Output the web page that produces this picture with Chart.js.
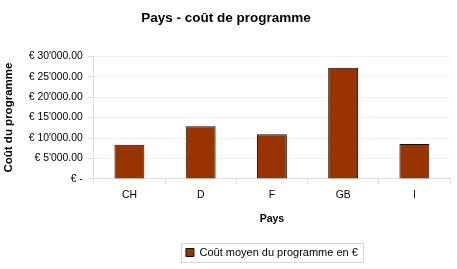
<!DOCTYPE html>
<html>
<head>
<meta charset="utf-8">
<script src="https://cdn.jsdelivr.net/npm/chart.js@4.4.1/dist/chart.umd.min.js"></script>
<style>
    body { margin: 0; background: #fff; }
    #wrap { width: 457px; height: 269px; border-right: 2px solid #d4d4d4; }
    canvas { display: block; }
</style>
</head>
<body>
<div id="wrap"><canvas id="CanvasChart" width="457" height="269"></canvas></div>
<script>
const pays = ["CH", "D", "F", "GB", "I"];
const coutMoyen = [8350, 12850, 10900, 27200, 8550];
const serieLabel = "Coût moyen du programme en €";

function euro(v) {
    if (v === 0) return "€ -";
    return "€ " + v.toLocaleString("en-US").replace(/,/g, "'") + ".00";
}

// cadre gris autour de la legende
const legendBox = {
    id: 'legendBox',
    afterDraw(chart) {
        const hb = chart.legend.legendHitBoxes[0];
        if (!hb) return;
        const ctx = chart.ctx;
        const cy = hb.top + hb.height / 2;
        ctx.save();
        ctx.strokeStyle = '#d6d6d6';
        ctx.lineWidth = 1;
        ctx.strokeRect(Math.round(hb.left - 5) + 0.5, Math.round(cy - 10) + 0.5,
            Math.round(hb.width + 10), 19);
        ctx.restore();
    }
};

const ctx = document.getElementById('CanvasChart').getContext('2d');
const CanvasChart = new Chart(ctx, {
    type: 'bar',
    data: {
        labels: pays,
        datasets: [{
            label: serieLabel,
            data: coutMoyen,
            backgroundColor: '#993300',
            borderColor: '#1a0a00',
            borderWidth: 1,
            barPercentage: 0.42,
            categoryPercentage: 1
        }]
    },
    options: {
        responsive: false,
        animation: false,
        layout: { padding: { left: 2, right: 7, top: 6, bottom: 1 } },
        plugins: {
            title: {
                display: true,
                text: 'Pays - coût de programme',
                color: '#000',
                font: { family: 'Liberation Sans', size: 13.5, weight: 'bold' },
                padding: { top: 4, bottom: 30 }
            },
            legend: {
                position: 'bottom',
                fullSize: false,
                labels: {
                    color: '#000',
                    font: { family: 'Liberation Sans', size: 11 },
                    boxWidth: 8,
                    boxHeight: 8,
                    padding: 6
                }
            },
            tooltip: { enabled: false }
        },
        scales: {
            x: {
                grid: { drawOnChartArea: false, color: '#dddddd', tickLength: 5 },
                border: { color: '#dddddd' },
                ticks: { color: '#000', font: { family: 'Liberation Sans', size: 10.4 }, padding: 5 },
                title: {
                    display: true,
                    text: 'Pays',
                    color: '#000',
                    font: { family: 'Liberation Sans', size: 10.5, weight: 'bold' },
                    padding: { top: 6, bottom: 16 }
                }
            },
            y: {
                min: 0,
                max: 30000,
                grid: { color: '#f2f2f2', tickColor: '#dddddd', tickLength: 6 },
                border: { color: '#dddddd' },
                ticks: {
                    stepSize: 5000,
                    color: '#000',
                    font: { family: 'Liberation Sans', size: 10.4 },
                    padding: 5,
                    callback: (v) => euro(v)
                },
                title: {
                    display: true,
                    text: 'Coût du programme',
                    color: '#000',
                    font: { family: 'Liberation Sans', size: 11.5, weight: 'bold' },
                    padding: { top: 0, bottom: 8 }
                }
            }
        }
    },
    plugins: [legendBox]
});
</script>
</body>
</html>
